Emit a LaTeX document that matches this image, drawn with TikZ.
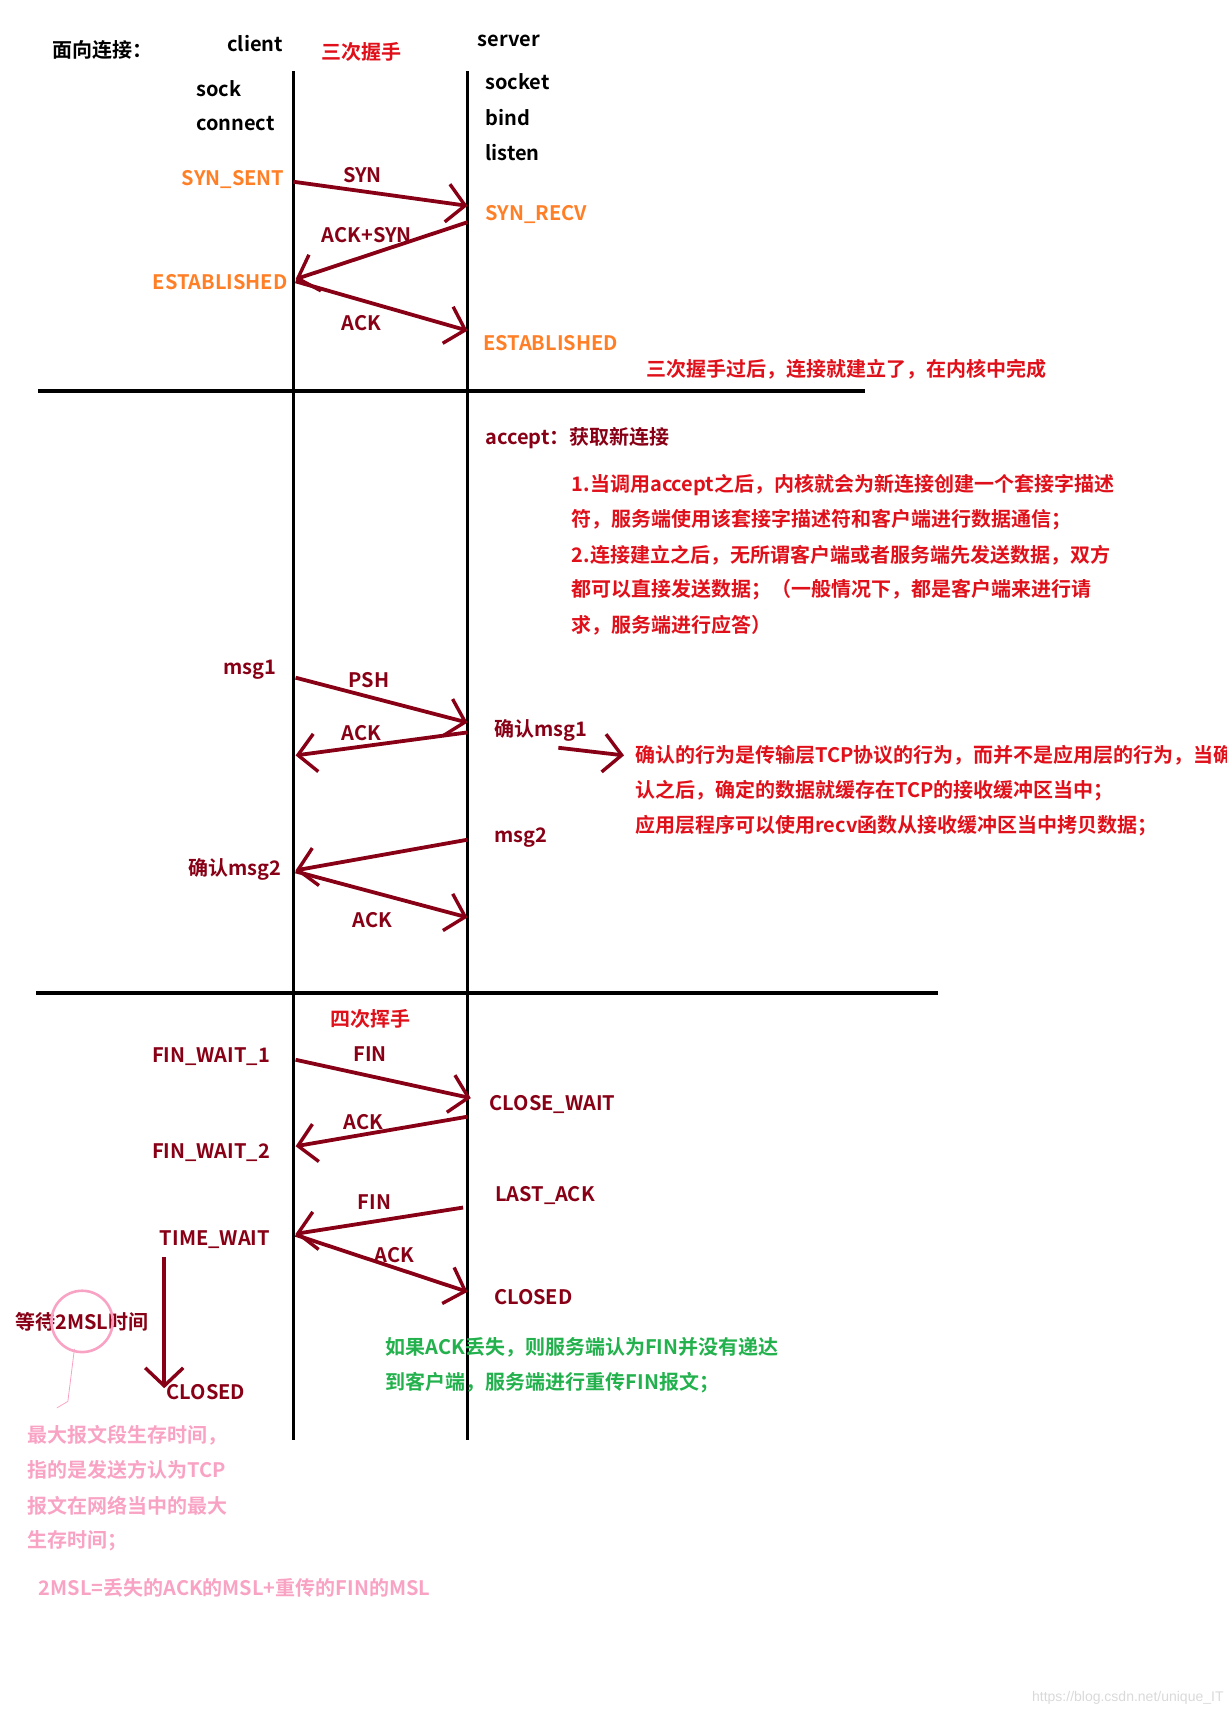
\documentclass[tikz,border=0pt]{standalone}
\usepackage{fontspec}
\setmainfont{Noto Sans CJK SC Bold}
\usetikzlibrary{arrows.meta}
\definecolor{dr}{HTML}{880015}
\definecolor{orng}{HTML}{FF7F27}
\definecolor{rd}{HTML}{E0101A}
\definecolor{grn}{HTML}{22B14C}
\definecolor{pnk}{HTML}{F9A3C4}
\begin{document}
\begin{tikzpicture}[x=0.5474pt,y=-0.5474pt,
  txt/.style={font=\fontsize{10}{12}\selectfont,inner sep=0pt,text=dr},
  st/.style={txt,text=orng},
  msg/.style={dr,line width=1.9pt,-{Straight Barb[length=9pt,width=19pt,line width=1.7pt]}},
  life/.style={black,line width=1.9pt}]
\useasboundingbox (0,0) rectangle (1120,1572);
% lifelines
\coordinate (c0) at (268,65); \coordinate (c1) at (268,1315);
\coordinate (s0) at (427,65); \coordinate (s1) at (427,1315);
\draw[life] (c0)--(c1); \draw[life] (s0)--(s1);
\coordinate (h1a) at (35,357); \coordinate (h1b) at (790,357);
\coordinate (h2a) at (33,907); \coordinate (h2b) at (857,907);
\draw[life] (h1a)--(h1b); \draw[life] (h2a)--(h2b);
% header
\node[txt,text=black,anchor=west] (mx) at (48,46) {面向连接：};
\node[txt,text=black] (cl) at (233,40) {client};
\node[txt,text=rd] (sw) at (330,47) {三次握手};
\node[txt,text=black] (sv) at (465,37) {server};
\node[txt,text=black] (sk) at (200,81) {sock};
\node[txt,text=black] (cn) at (215,113) {connect};
\node[txt,text=black,anchor=west] (so) at (443,75) {socket};
\node[txt,text=black,anchor=west] (bd) at (443,107) {bind};
\node[txt,text=black,anchor=west] (ls) at (443,139) {listen};
% handshake
\node[st,anchor=east] (ss) at (260,164) {SYN\_SENT};
\node[st,anchor=west] (sr) at (443,196) {SYN\_RECV};
\node[st,anchor=east] (e1) at (263,258) {ESTABLISHED};
\node[st,anchor=west] (e2) at (441,313) {ESTABLISHED};
\node[txt] (l1) at (331,160) {SYN};
\node[txt] (l2) at (335,215) {ACK+SYN};
\node[txt] (l3) at (330,295) {ACK};
\coordinate (a1) at (268,166); \coordinate (a2) at (427,188);
\coordinate (a3) at (427,203); \coordinate (a4) at (270,255);
\coordinate (a5) at (270,257); \coordinate (a6) at (427,302);
\draw[msg] (a1)--(a2); \draw[msg] (a3)--(a4); \draw[msg] (a5)--(a6);
\node[txt,text=rd,anchor=west] (t3) at (590,337) {三次握手过后，连接就建立了，在内核中完成};
% accept
\node[txt,anchor=west] (ac) at (443,400) {accept：获取新连接};
\node[txt,text=rd,anchor=west] (p1) at (522,443) {1.当调用accept之后，内核就会为新连接创建一个套接字描述};
\node[txt,text=rd,anchor=west] (p2) at (522,475) {符，服务端使用该套接字描述符和客户端进行数据通信；};
\node[txt,text=rd,anchor=west] (p3) at (522,507) {2.连接建立之后，无所谓客户端或者服务端先发送数据，双方};
\node[txt,text=rd,anchor=west] (p4) at (522,539) {都可以直接发送数据；（一般情况下，都是客户端来进行请};
\node[txt,text=rd,anchor=west] (p5) at (522,571) {求，服务端进行应答）};
% data
\node[txt,anchor=east] (m1) at (253,612) {msg1};
\node[txt] (psh) at (337,621) {PSH};
\node[txt,anchor=west] (qm1) at (451,667) {确认msg1};
\node[txt] (ak1) at (330,670) {ACK};
\coordinate (b1) at (270,619); \coordinate (b2) at (427,660);
\coordinate (b3) at (427,669); \coordinate (b4) at (270,690);
\draw[msg] (b1)--(b2); \draw[msg] (b3)--(b4);
\coordinate (n1) at (510,683); \coordinate (n2) at (570,690);
\draw[msg] (n1)--(n2);
\node[txt,text=rd,anchor=west] (q1) at (580,690) {确认的行为是传输层TCP协议的行为，而并不是应用层的行为，当确};
\node[txt,text=rd,anchor=west] (q2) at (580,722) {认之后，确定的数据就缓存在TCP的接收缓冲区当中；};
\node[txt,text=rd,anchor=west] (q3) at (580,754) {应用层程序可以使用recv函数从接收缓冲区当中拷贝数据；};
\node[txt,anchor=west] (m2) at (451,765) {msg2};
\node[txt,anchor=east] (qm2) at (257,794) {确认msg2};
\node[txt] (ak2) at (340,840) {ACK};
\coordinate (b5) at (427,767); \coordinate (b6) at (270,795);
\coordinate (b7) at (270,796); \coordinate (b8) at (427,838);
\draw[msg] (b5)--(b6); \draw[msg] (b7)--(b8);
% teardown
\node[txt,text=rd] (fw) at (338,931) {四次挥手};
\node[txt,anchor=east] (f1) at (247,965) {FIN\_WAIT\_1};
\node[txt] (fin1) at (338,963) {FIN};
\node[txt,anchor=west] (cw) at (447,1009) {CLOSE\_WAIT};
\node[txt] (ak3) at (332,1025) {ACK};
\node[txt,anchor=east] (f2) at (247,1053) {FIN\_WAIT\_2};
\node[txt,anchor=west] (la) at (452,1092) {LAST\_ACK};
\node[txt] (fin2) at (342,1098) {FIN};
\node[txt,anchor=east] (tw) at (247,1132) {TIME\_WAIT};
\node[txt] (ak4) at (360,1146) {ACK};
\node[txt,anchor=west] (cd1) at (451,1185) {CLOSED};
\coordinate (d1) at (270,968); \coordinate (d2) at (430,1003);
\coordinate (d3) at (427,1020); \coordinate (d4) at (270,1047);
\coordinate (d5) at (423,1103); \coordinate (d6) at (270,1127);
\coordinate (d7) at (270,1128); \coordinate (d8) at (427,1180);
\draw[msg] (d1)--(d2); \draw[msg] (d3)--(d4); \draw[msg] (d5)--(d6); \draw[msg] (d7)--(d8);
\coordinate (v1) at (150,1148); \coordinate (v2) at (150,1268);
\draw[msg] (v1)--(v2);
\node[txt,anchor=west] (cd2) at (152,1272) {CLOSED};
\node[txt] (wt) at (75,1207) {等待2MSL时间};
\node[draw=pnk,line width=1.3pt,circle,minimum size=56pt*0.5474,inner sep=0pt] (cir) at (75,1207) {};
\coordinate (w1) at (68,1232); \coordinate (w2) at (62,1280); \coordinate (w3) at (52,1286);
\draw[pnk,line width=0.4pt] (w1) -- (w2) -- (w3);
\node[txt,text=grn,anchor=west] (g1) at (352,1231) {如果ACK丢失，则服务端认为FIN并没有递达};
\node[txt,text=grn,anchor=west] (g2) at (352,1263) {到客户端，服务端进行重传FIN报文；};
\node[txt,text=pnk,anchor=west] (k1) at (25,1311) {最大报文段生存时间，};
\node[txt,text=pnk,anchor=west] (k2) at (25,1343) {指的是发送方认为TCP};
\node[txt,text=pnk,anchor=west] (k3) at (25,1375) {报文在网络当中的最大};
\node[txt,text=pnk,anchor=west] (k4) at (25,1407) {生存时间；};
\node[txt,text=pnk,anchor=west] (k5) at (35,1450) {2MSL=丢失的ACK的MSL+重传的FIN的MSL};
\node[font=\fontspec{Liberation Sans}\fontsize{7}{8}\selectfont,text=black!15,anchor=east,inner sep=0pt] (wm) at (1118,1551) {https://blog.csdn.net/unique\_IT};
\end{tikzpicture}
\end{document}
